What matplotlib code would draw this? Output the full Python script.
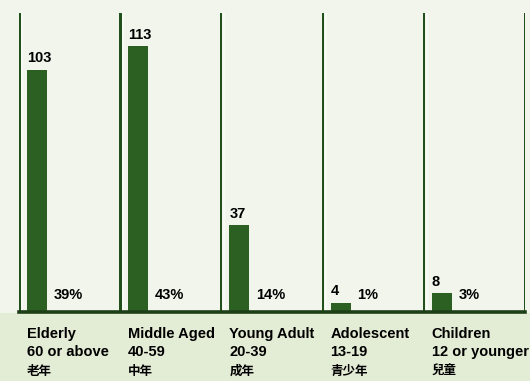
import matplotlib

matplotlib.use("Agg")
import matplotlib.pyplot as plt
from matplotlib.patches import Rectangle

names = ["Elderly", "Middle Aged", "Young Adult", "Adolescent", "Children"]
ranges = ["60 or above", "40-59", "20-39", "13-19", "12 or younger"]
names_zh = ["老年", "中年", "成年", "青少年", "兒童"]
counts = [103, 113, 37, 4, 8]
shares = ["39%", "43%", "14%", "1%", "3%"]

FONT = ["Liberation Sans", "Noto Sans CJK TC"]
BAR = "#2c5f22"
LINE = "#22501b"

W, H = 530, 381
fig = plt.figure(figsize=(W / 100, H / 100), dpi=100, facecolor="#f1f5eb")
# greener band under the baseline
fig.patches.append(Rectangle((0, 0), 1, (H - 313) / H, transform=fig.transFigure,
                             facecolor="#e3ecd5", edgecolor="none", zorder=-1))

left, right, top, base = 19, 525, 13, 312
ax = fig.add_axes([left / W, (H - base) / H, (right - left) / W, (base - top) / H])
ax.set_facecolor("none")
group_px = (right - left) / len(names)
px = 1 / group_px

x = list(range(len(names)))
ax.bar([i + 8 * px for i in x], counts, width=20 * px, align="edge",
       color=BAR, edgecolor="none", zorder=2)
ax.set_xlim(0, len(names))
ax.set_ylim(0, 127)

# separators between groups
widths = [4, 3, 2, 2, 2, 2]
for i in range(len(names) + 1):
    ax.axvline(i, color=LINE, lw=widths[i] * 0.72, zorder=3)
    ax.axvline(i + 3 * px, color="white", lw=1.2, alpha=0.6, zorder=1)
ax.axhline(0, color="#1d3f17", lw=2.6, zorder=4, clip_on=False)

xt = ax.get_xaxis_transform()
hh = base - top
for i in x:
    ax.annotate(str(counts[i]), (i + 8 * px, counts[i]), xytext=(0, 3),
                textcoords="offset points", ha="left", va="bottom",
                fontsize=10.5, fontweight="bold", family=FONT)
    ax.text(i + 35 * px, 17 / hh, shares[i], transform=xt,
            ha="left", va="center", fontsize=10.5, fontweight="bold", family=FONT)
    lx = i + 8 * px
    ax.text(lx, -22 / hh, names[i], transform=xt, ha="left",
            va="center", fontsize=10.5, fontweight="bold", family=FONT)
    ax.text(lx, -40 / hh, ranges[i], transform=xt, ha="left",
            va="center", fontsize=10.5, fontweight="bold", family=FONT)
    ax.text(lx, -59 / hh, names_zh[i], transform=xt, ha="left",
            va="center", fontsize=9, fontweight="bold",
            family=["Noto Sans CJK TC", "DejaVu Sans"])

for s in ax.spines.values():
    s.set_visible(False)
ax.set_xticks([])
ax.set_yticks([])

fig.savefig("out.png", dpi=100, facecolor=fig.get_facecolor())
